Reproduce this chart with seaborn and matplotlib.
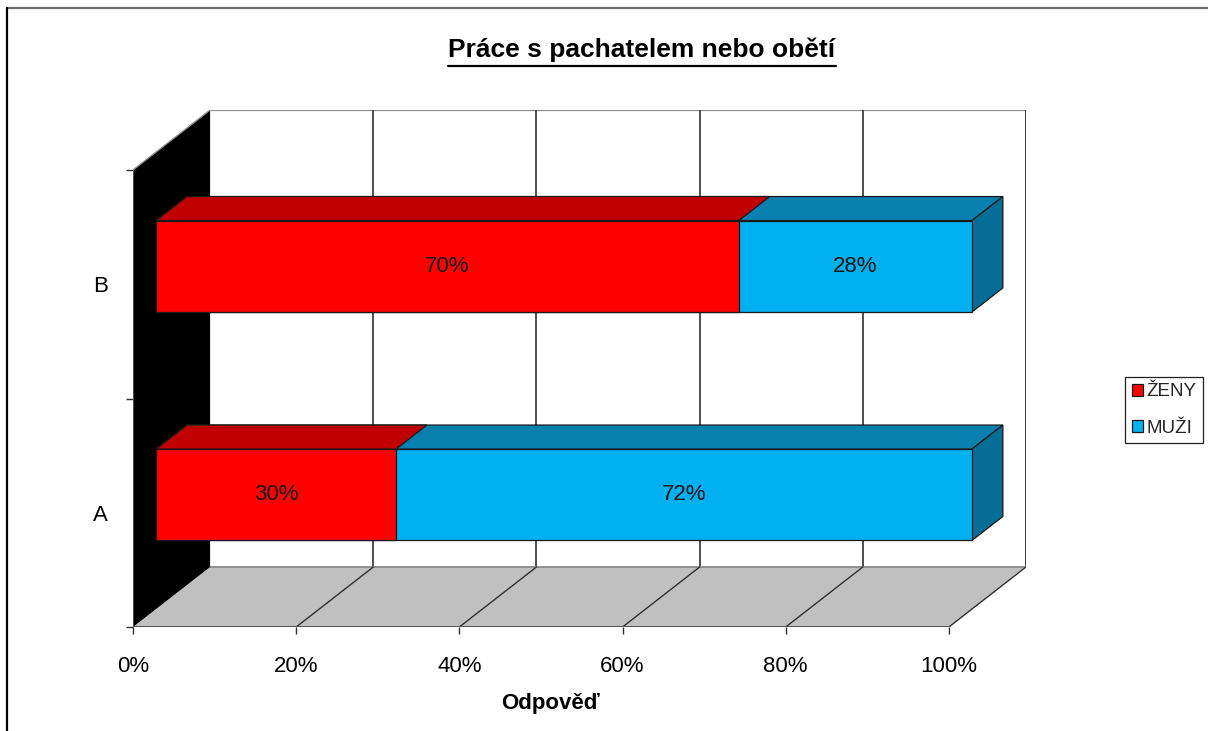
import matplotlib
matplotlib.use("Agg")
import matplotlib.pyplot as plt
from matplotlib.patches import Polygon, Patch
from matplotlib.lines import Line2D
import numpy as np
import pandas as pd
import seaborn as sns

# ---- data ----
categories = ["A", "B"]
zeny = [30, 70]
muzi = [72, 28]
series_names = ["ŽENY", "MUŽI"]
x_ticks = [0, 20, 40, 60, 80, 100]
x_tick_labels = ["0%", "20%", "40%", "60%", "80%", "100%"]
title = "Práce s pachatelem nebo obětí"
x_label = "Odpověď"

# ---- style ----
sns.set_theme(style="white")
plt.rcParams["font.family"] = ["Liberation Sans", "DejaVu Sans"]

RED, RED_TOP = "#ff0000", "#c00000"
BLUE, BLUE_TOP, BLUE_SIDE = "#00b0f0", "#0a80b0", "#066d96"
EDGE = "#1a1a1a"

W, H = 1208, 731
fig = plt.figure(figsize=(W / 100, H / 100), dpi=100)
fig.patch.set_facecolor("white")

# axes covering the front plane plus the oblique depth of the 3-D box
DX, DY = 9.45, 0.2626          # depth vector of the box in data units
F1, F2 = 0.30, 0.70            # bar front / back as a fraction of the depth
BAR_H = 0.40
ax = fig.add_axes([133 / W, 1 - 627 / H, 893 / W, 517 / H])
ax.set_facecolor("none")

# 100 % stacked shares
tot = np.array(zeny, float) + np.array(muzi, float)
share_z = np.array(zeny) / tot * 100
df = pd.DataFrame({"cat": categories, "zeny": share_z, "total": np.full(len(categories), 100.0)})

sns.barplot(data=df, x="total", y="cat", order=categories, orient="h", color=BLUE,
            saturation=1, width=BAR_H, edgecolor=EDGE, linewidth=0.9, errorbar=None,
            ax=ax, zorder=3)
sns.barplot(data=df, x="zeny", y="cat", order=categories, orient="h", color=RED,
            saturation=1, width=BAR_H, edgecolor=EDGE, linewidth=0.9, errorbar=None,
            ax=ax, zorder=3)

ax.set_xlim(0, 100 + DX)
ax.set_ylim(-0.5, 1.5 + DY)

# push the front faces into the box and add top / side faces
bars = list(ax.patches)
n = len(categories)
ddx, ddy = (F2 - F1) * DX, (F2 - F1) * DY
for i, p in enumerate(bars):
    p.set_x(p.get_x() + F1 * DX)
    p.set_y(p.get_y() + F1 * DY)
    x0, y0 = p.get_x(), p.get_y()
    x1, y1 = x0 + p.get_width(), y0 + p.get_height()
    is_blue = i < n
    top = Polygon([(x0, y1), (x1, y1), (x1 + ddx, y1 + ddy), (x0 + ddx, y1 + ddy)],
                  closed=True, facecolor=BLUE_TOP if is_blue else RED_TOP,
                  edgecolor=EDGE, linewidth=0.9, zorder=2.9 if is_blue else 3.1)
    ax.add_patch(top)
    if is_blue:
        side = Polygon([(x1, y0), (x1 + ddx, y0 + ddy), (x1 + ddx, y1 + ddy), (x1, y1)],
                       closed=True, facecolor=BLUE_SIDE, edgecolor=EDGE,
                       linewidth=0.9, zorder=2.9)
        ax.add_patch(side)

# value labels on the front faces
for j in range(n):
    yc = j + F1 * DY
    xz = share_z[j]
    ax.text(F1 * DX + xz / 2, yc, f"{zeny[j]}%", ha="center", va="center",
            fontsize=16, color="#151515", zorder=5)
    ax.text(F1 * DX + xz + (100 - xz) / 2, yc, f"{muzi[j]}%", ha="center", va="center",
            fontsize=16, color="#151515", zorder=5)

# back wall
y_lo, y_hi = -0.5, 1.5
ax.add_patch(Polygon([(DX, y_lo + DY), (100 + DX, y_lo + DY), (100 + DX, y_hi + DY),
                      (DX, y_hi + DY)], closed=True, facecolor="white",
                     edgecolor="none", zorder=0.2))
ax.plot([DX, 100 + DX], [y_hi + DY, y_hi + DY], color="#8a8a8a", lw=1.6, zorder=0.6)
ax.plot([100 + DX, 100 + DX], [y_lo + DY, y_hi + DY], color="#303030", lw=1.3, zorder=0.6)
for xv in x_ticks[1:-1]:
    ax.plot([xv + DX, xv + DX], [y_lo + DY, y_hi + DY], color="#303030", lw=1.2, zorder=0.6)

# floor
ax.add_patch(Polygon([(0, y_lo), (100, y_lo), (100 + DX, y_lo + DY), (DX, y_lo + DY)],
                     closed=True, facecolor="#c0c0c0", edgecolor="none", zorder=0.4))
ax.plot([DX, 100 + DX], [y_lo + DY, y_lo + DY], color="#8a8a8a", lw=1.3, zorder=0.6)
ax.plot([0, 100], [y_lo, y_lo], color="#505050", lw=1.4, zorder=0.7)
for xv in x_ticks[1:]:
    ax.plot([xv, xv + DX], [y_lo, y_lo + DY], color="#303030", lw=1.0, zorder=0.6)

# left side wall
ax.add_patch(Polygon([(0, y_lo), (DX, y_lo + DY), (DX, y_hi + DY), (0, y_hi)],
                     closed=True, facecolor="black", edgecolor="none", zorder=0.8))
ax.plot([0, 0], [y_lo, y_hi], color="#606060", lw=1.2, zorder=0.9)
ax.plot([0, DX], [y_hi, y_hi + DY], color="#909090", lw=1.0, zorder=0.9)

# axes, ticks, labels
for s in ax.spines.values():
    s.set_visible(False)
ax.set_xticks(x_ticks)
ax.set_xticklabels(x_tick_labels)
ax.set_yticks([-0.5, 0.5, 1.5])
ax.set_yticklabels([])
ax.set_yticks(range(n), minor=True)
ax.set_yticklabels(categories, minor=True)
ax.tick_params(axis="x", which="major", bottom=True, length=5, width=1, color="#303030",
               labelsize=16, pad=16, labelcolor="black")
ax.tick_params(axis="y", which="major", left=True, length=5, width=1, color="#303030")
ax.tick_params(axis="y", which="minor", left=True, length=0, labelsize=16, pad=18,
               labelcolor="black")
ax.set_xlabel("")
ax.set_ylabel("")

# title with underline
t = fig.text(642 / W, 1 - 50 / H, title, ha="center", va="center", fontsize=19,
             fontweight="bold", color="black")
fig.text(551 / W, 1 - 704 / H, x_label, ha="center", va="center", fontsize=16,
         fontweight="bold", color="black")
fig.canvas.draw()
bb = t.get_window_extent()
uy = 1 - 66 / H
fig.add_artist(Line2D([bb.x0 / W, bb.x1 / W], [uy, uy], transform=fig.transFigure,
                      color="black", lw=1.6))

# legend
handles = [Patch(facecolor=RED, edgecolor=EDGE, linewidth=0.9),
           Patch(facecolor=BLUE, edgecolor=EDGE, linewidth=0.9)]
leg = fig.legend(handles, series_names, loc="center left",
                 bbox_to_anchor=(1125 / W, 1 - 410 / H), fontsize=13.5, frameon=True,
                 fancybox=False, framealpha=1, edgecolor="#202020", borderpad=0.35,
                 handlelength=0.6, handleheight=0.6, handletextpad=0.2,
                 labelspacing=1.05, borderaxespad=0)
leg.get_frame().set_linewidth(0.9)

# outer border of the chart area
fig.add_artist(Line2D([7 / W, 1], [1 - 8 / H, 1 - 8 / H], transform=fig.transFigure,
                      color="#6a6a6a", lw=1.6))
fig.add_artist(Line2D([7 / W, 7 / W], [0, 1 - 8 / H], transform=fig.transFigure,
                      color="black", lw=1.6))

fig.savefig("out.png", dpi=100)
